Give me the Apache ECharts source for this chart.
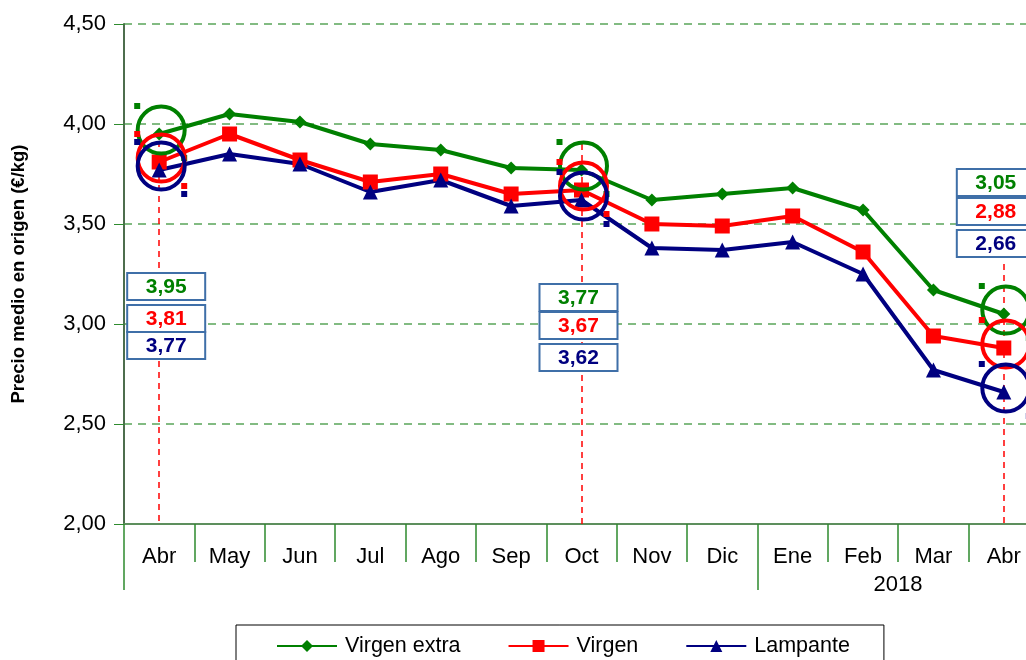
<!DOCTYPE html>
<html>
<head>
<meta charset="utf-8">
<script src="https://cdn.jsdelivr.net/npm/echarts@6/dist/echarts.min.js"></script>
<style>
  html, body { margin: 0; padding: 0; background: #fff; overflow: hidden; }
  #main { width: 1042px; height: 660px; }
</style>
</head>
<body>
<div id="main"></div>
<script>
// meses (abril 2017 -> abril 2018)
var months = ['Abr', 'May', 'Jun', 'Jul', 'Ago', 'Sep', 'Oct', 'Nov', 'Dic', 'Ene', 'Feb', 'Mar', 'Abr'];
var yearLabel = '2018';
var virgenExtra = [3.95, 4.05, 4.01, 3.90, 3.87, 3.78, 3.77, 3.62, 3.65, 3.68, 3.57, 3.17, 3.05];
var virgen      = [3.81, 3.95, 3.82, 3.71, 3.75, 3.65, 3.67, 3.50, 3.49, 3.54, 3.36, 2.94, 2.88];
var lampante    = [3.77, 3.85, 3.80, 3.66, 3.72, 3.59, 3.62, 3.38, 3.37, 3.41, 3.25, 2.77, 2.66];
var seriesNames = ['Virgen extra', 'Virgen', 'Lampante'];
var colors = ['#008000', '#ff0000', '#000080'];
// meses destacados con circulos y cajas
var highlight = [0, 6, 12];

// posiciones de las cajas (pixeles)
var boxDx = [7, -3, -8];
var boxTops = [[273, 305, 332], [284, 312, 344], [169, 198, 230]];
var lineTops = [3.97, 3.9, 3.3];

function fmt(v) { return v.toFixed(2).replace('.', ','); }

var allData = [virgenExtra, virgen, lampante];
var symbols = ['diamond', 'rect', 'triangle'];
var symbolSizes = [13, 15, 15];
var FONT = 'Liberation Sans, Arial, sans-serif';

var chartDom = document.getElementById('main');
var myChart = echarts.init(chartDom);
var option;

var series = [];
for (var s = 0; s < 3; s++) {
  series.push({
    name: seriesNames[s],
    type: 'line',
    data: allData[s],
    symbol: symbols[s],
    symbolSize: symbolSizes[s],
    itemStyle: { color: colors[s] },
    lineStyle: { color: colors[s], width: 4 },
    z: 5
  });
}
// lineas rojas discontinuas
series[1].markLine = {
  silent: true,
  symbol: 'none',
  label: { show: false },
  lineStyle: { color: '#ff0000', type: [6, 5], width: 1.5 },
  data: highlight.map(function (idx, k) {
    return [{ coord: [idx, lineTops[k]] }, { coord: [idx, 2] }];
  })
};
// circulos
for (var s = 0; s < 3; s++) {
  var circ = [];
  var dots = [];
  for (var k = 0; k < highlight.length; k++) {
    var idx = highlight[k];
    circ.push([idx, allData[s][idx]]);
    dots.push({ value: [idx, allData[s][idx]], symbolOffset: [-22, -28] });
    dots.push({ value: [idx, allData[s][idx]], symbolOffset: [25, 24] });
  }
  series.push({
    type: 'scatter',
    data: circ,
    symbol: 'circle',
    symbolSize: 47,
    symbolOffset: [2, -4],
    itemStyle: { color: 'rgba(0,0,0,0)', borderColor: colors[s], borderWidth: 4, opacity: 1 },
    silent: true,
    z: 6
  });
  series.push({
    type: 'scatter',
    data: dots,
    symbol: 'rect',
    symbolSize: 6,
    itemStyle: { color: colors[s], opacity: 1 },
    silent: true,
    z: 6
  });
}

option = {
  animation: false,
  textStyle: { fontFamily: FONT },
  grid: { left: 124, top: 24, right: 3, bottom: 136 },
  legend: {
    data: seriesNames,
    left: 236,
    top: 625,
    padding: [10, 34, 14, 40],
    itemGap: 47,
    itemWidth: 60,
    itemHeight: 15,
    borderColor: '#000',
    borderWidth: 1,
    textStyle: { fontSize: 21.5, color: '#000', fontFamily: FONT, padding: [0, 0, 0, 3] }
  },
  xAxis: [
    {
      type: 'category',
      data: months,
      boundaryGap: true,
      axisLine: { lineStyle: { color: '#5d8f5d', width: 2 } },
      axisTick: { show: true, length: 38, interval: 0, lineStyle: { color: '#2e8b2e', width: 1.5 } },
      axisLabel: { fontSize: 22, color: '#000', margin: 22, interval: 0, fontFamily: FONT },
      splitLine: { show: false }
    },
    {
      type: 'category',
      data: months,
      position: 'bottom',
      boundaryGap: true,
      axisLine: { show: false },
      axisTick: {
        show: true, length: 66,
        interval: function (i) { return i === 0 || i === 9; },
        lineStyle: { color: '#2e8b2e', width: 1.5 }
      },
      axisLabel: { show: false }
    }
  ],
  yAxis: {
    type: 'value',
    min: 2,
    max: 4.5,
    interval: 0.5,
    name: 'Precio medio en origen (€/kg)',
    nameLocation: 'middle',
    nameGap: 96,
    nameTextStyle: { fontSize: 18.5, fontWeight: 'bold', color: '#000', fontFamily: FONT },
    axisLine: { show: true, lineStyle: { color: '#4d6e4d', width: 2 } },
    axisTick: { show: true, length: 10, lineStyle: { color: '#2e8b2e' } },
    axisLabel: { fontSize: 22, color: '#000', margin: 18, formatter: function (v) { return fmt(v); }, fontFamily: FONT },
    splitLine: { show: true, lineStyle: { color: '#5aa55a', type: [8, 6], width: 1.5 } }
  },
  series: series
};

option && myChart.setOption(option);

// cajas con valores y etiqueta del año
var xAxisModel = myChart.getModel().getComponent('xAxis', 0);
var axis = xAxisModel.axis;
var graphics = [];
for (var k = 0; k < highlight.length; k++) {
  var idx = highlight[k];
  var cx = axis.toGlobalCoord(axis.dataToCoord(idx)) + boxDx[k];
  for (var s = 0; s < 3; s++) {
    var boxY = boxTops[k][s];
    graphics.push({
      type: 'rect',
      z: 100,
      shape: { x: cx - 39, y: boxY, width: 78, height: 27 },
      style: { fill: '#fff', stroke: '#3f6fa8', lineWidth: 2 }
    });
    graphics.push({
      type: 'text',
      z: 101,
      x: cx,
      y: boxY + 14,
      style: {
        text: fmt(allData[s][idx]),
        fill: colors[s],
        fontSize: 21,
        fontWeight: 'bold',
        fontFamily: FONT,
        align: 'center',
        verticalAlign: 'middle'
      }
    });
  }
}
var yearX = axis.toGlobalCoord(axis.dataToCoord(10)) + 35;
graphics.push({
  type: 'text',
  x: yearX,
  y: 585,
  style: { text: yearLabel, fill: '#000', fontSize: 22, fontFamily: FONT, align: 'center', verticalAlign: 'middle' }
});
myChart.setOption({ graphic: graphics });
</script>
</body>
</html>
